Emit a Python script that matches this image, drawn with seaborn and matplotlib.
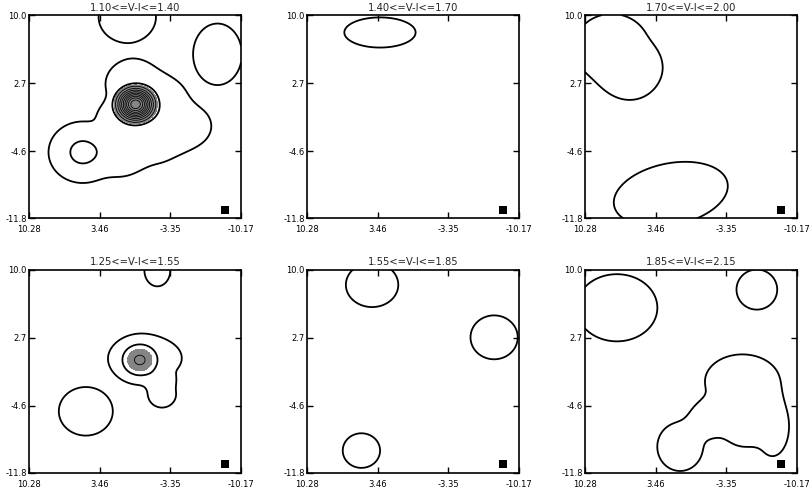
import numpy as np
import matplotlib
matplotlib.use("Agg")
import matplotlib.pyplot as plt
import seaborn as sns

# panel titles (colour bins) and axis ticks
titles = ["1.10<=V-I<=1.40", "1.40<=V-I<=1.70", "1.70<=V-I<=2.00",
          "1.25<=V-I<=1.55", "1.55<=V-I<=1.85", "1.85<=V-I<=2.15"]
xticks = [10.28, 3.46, -3.35, -10.17]
xticklabels = ["10.28", "3.46", "-3.35", "-10.17"]
yticks = [-11.8, -4.6, 2.7, 10.0]
yticklabels = ["-11.8", "-4.6", "2.7", "10.0"]

# density blobs:
# (x, y, sigma_x, sigma_y, amplitude, angle, flatness)
blobs_1 = [(0.0, 0.44, 1.15, 1.15, 11.9, 0, 1),     # central peak
           (5.1, -4.7, 2.61, 2.61, 2.22, 0, 1),      # lower-left lobe
           (0.2, 2.6, 3.2, 3.2, 1.35, 0, 1.5),
           (-4.6, -1.9, 3.2, 2.85, 1.35, 0, 1.5),
           (-1.8, -2.6, 3.32, 3.91, 1.35, 0, 1.5),
           (1.3, -4.6, 2.61, 3.08, 1.35, 0, 1.5),
           (1.8, -0.8, 2.14, 1.9, 1.35, 0, 1.5),
           (-2.6, 1.0, 2.75, 2.75, 1.35, 0, 1.5),
           (0.8, 9.8, 2.55, 2.55, 1.8, 0, 1),
           (-7.9, 5.8, 2.17, 3.04, 1.8, 0, 1)]
blobs_2 = [(3.24, 8.14, 3.17, 1.49, 1.8, 0, 1)]
blobs_3 = [(7.7, 6.5, 4.3, 4.3, 1.35, 0, 1.5),
           (5.9, 3.5, 3.0, 3.0, 1.35, 0, 1.5),
           (5.2, 4.6, 2.37, 2.37, 1.35, 0, 1.5),
           (2.0, -9.2, 5.17, 3.04, 1.8, -14, 1)]
blobs_4 = [(-0.4, 0.3, 1.65, 1.65, 3.05, 0, 1),      # central peak
           (-1.0, 0.5, 4.09, 2.79, 1.35, 0, 1.5),
           (-2.55, -3.4, 1.6, 1.66, 1.35, 0, 1.5),
           (-2.4, -1.9, 1.54, 1.19, 1.35, 0, 1.5),
           (-2.1, 9.9, 1.15, 1.57, 1.8, 0, 1),
           (4.8, -5.2, 2.4, 2.4, 1.8, 0, 1)]
blobs_5 = [(4.0, 8.36, 2.33, 2.2, 1.8, 0, 1),
           (-7.77, 2.73, 2.1, 2.17, 1.8, 0, 1),
           (5.03, -9.41, 1.66, 1.71, 1.8, 0, 1)]
blobs_6 = [(7.2, 5.9, 3.6, 3.32, 1.8, 0, 1),
           (-6.3, 7.85, 1.81, 1.98, 1.8, 0, 1),
           (-4.9, -2.0, 4.27, 3.44, 1.35, 0, 1.5),
           (-7.8, -6.8, 1.9, 3.8, 1.35, 0, 1.5),
           (1.1, -9.0, 2.61, 3.08, 1.35, 0, 1.5),
           (-2.0, -6.0, 2.61, 2.37, 1.35, 0, 1.5),
           (-5.2, -7.6, 2.14, 1.66, 1.35, 0, 1.5),
           (-5.0, -5.3, 1.8, 1.8, 1.35, 0, 1.5)]

levels_1 = list(range(1, 13))
levels_4 = [1, 2, 3]
levels_single = [1]
gray_level = 2.5

# beam marker in the lower right corner
beam_x = [-8.65]
beam_y = [-10.9]


def density(blobs, X, Y, k=3):
    total = np.zeros_like(X)
    for cx, cy, sx, sy, a, ang, p in blobs:
        t = np.radians(ang)
        u = (X - cx) * np.cos(t) + (Y - cy) * np.sin(t)
        v = -(X - cx) * np.sin(t) + (Y - cy) * np.cos(t)
        q = (u / sx) ** 2 + (v / sy) ** 2
        total += (a * np.exp(-0.5 * q ** p)) ** k
    return total ** (1.0 / k)


sns.set_theme(style="ticks")
plt.rcParams['font.family'] = ['DejaVu Sans']

xg = np.linspace(10.28, -10.17, 400)
yg = np.linspace(-11.8, 10.0, 400)
X, Y = np.meshgrid(xg, yg)

fig, axes = plt.subplots(2, 3, figsize=(8.12, 4.88), dpi=100)
fig.subplots_adjust(left=0.0357, right=0.9815, top=0.969, bottom=0.031,
                    wspace=0.311, hspace=0.251)

panels = [(blobs_1, levels_1, True), (blobs_2, levels_single, False),
          (blobs_3, levels_single, False), (blobs_4, levels_4, True),
          (blobs_5, levels_single, False), (blobs_6, levels_single, False)]

for ax, title, (blobs, levels, shade) in zip(axes.flat, titles, panels):
    Z = density(blobs, X, Y)
    if shade:
        ax.contourf(X, Y, Z, levels=[gray_level, Z.max() + 1], colors=['#858585'])
    widths = [1.3 if lv < gray_level else 0.6 for lv in levels]
    ax.contour(X, Y, Z, levels=levels, colors='black', linewidths=widths)
    sns.scatterplot(x=beam_x, y=beam_y, marker='s', color='black', s=26,
                    linewidth=0, ax=ax)
    ax.set_xlim(10.28, -10.17)
    ax.set_ylim(-11.8, 10.0)
    ax.set_xticks(xticks)
    ax.set_xticklabels(xticklabels)
    ax.set_yticks(yticks)
    ax.set_yticklabels(yticklabels)
    ax.tick_params(direction='in', length=4, width=1, top=True, right=True,
                   labelsize=6, colors='black')
    ax.tick_params(axis='x', pad=5)
    ax.tick_params(axis='y', pad=1.5)
    ax.set_title(title, fontsize=7.2, pad=3)
    for s in ax.spines.values():
        s.set_linewidth(1.2)
        s.set_color('black')

fig.savefig("out.png", dpi=100)
